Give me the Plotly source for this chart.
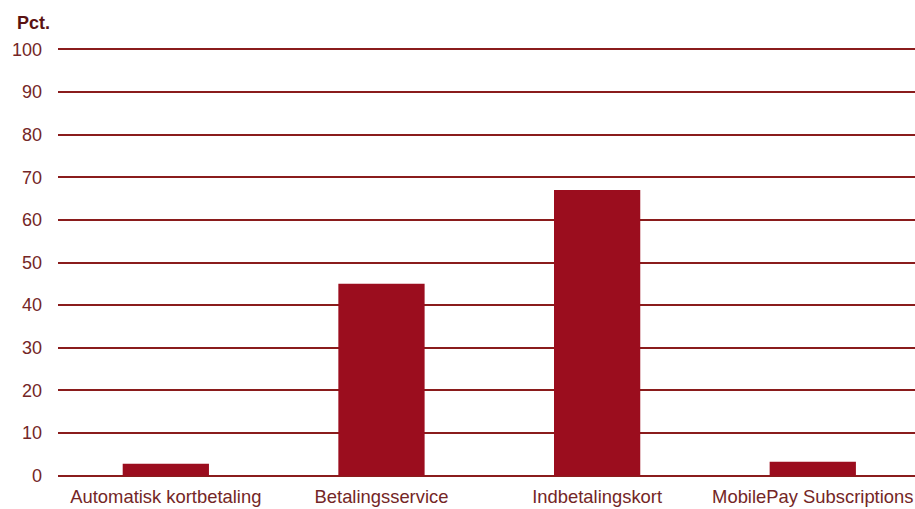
import plotly.graph_objects as go

categories = ["Automatisk kortbetaling", "Betalingsservice", "Indbetalingskort", "MobilePay Subscriptions"]
values = [2.8, 45, 67, 3.3]
y_ticks = [0, 10, 20, 30, 40, 50, 60, 70, 80, 90, 100]

bar_color = "#9b0d1e"
grid_color = "#8a1c1c"
text_color = "#742626"

W, H = 915, 509
ML, MR, MT, MB = 58, 0, 48, 32
plot_w = W - ML - MR
plot_h = H - MT - MB

fig = go.Figure(
    go.Bar(x=categories, y=values, marker=dict(color=bar_color, line=dict(width=0)), width=0.4)
)

fig.update_layout(
    width=W,
    height=H,
    margin=dict(l=ML, r=MR, t=MT, b=MB),
    paper_bgcolor="white",
    plot_bgcolor="white",
    showlegend=False,
    bargap=0.6,
    font=dict(family="Liberation Sans, Arial, sans-serif", size=18, color=text_color),
    annotations=[
        dict(text="<b>Pct.</b>", xref="paper", yref="paper",
             x=(15 - ML) / plot_w, y=1 + (MT - 23) / plot_h,
             showarrow=False, xanchor="left", yanchor="middle",
             font=dict(size=18, color="#5a1212"))
    ],
)

fig.update_xaxes(
    range=[-0.5, 3.474], showgrid=False, zeroline=False, showline=False, ticks="",
    tickfont=dict(size=18.4, color=text_color), ticklabelstandoff=7, automargin=False,
)
fig.update_yaxes(
    range=[-0.3, 100.3], tickvals=y_ticks, showgrid=True, gridcolor=grid_color, gridwidth=2,
    zeroline=False, showline=False, ticks="", ticklabelstandoff=15,
    tickfont=dict(size=18, color=text_color), automargin=False,
)

fig.write_html("out.html")
